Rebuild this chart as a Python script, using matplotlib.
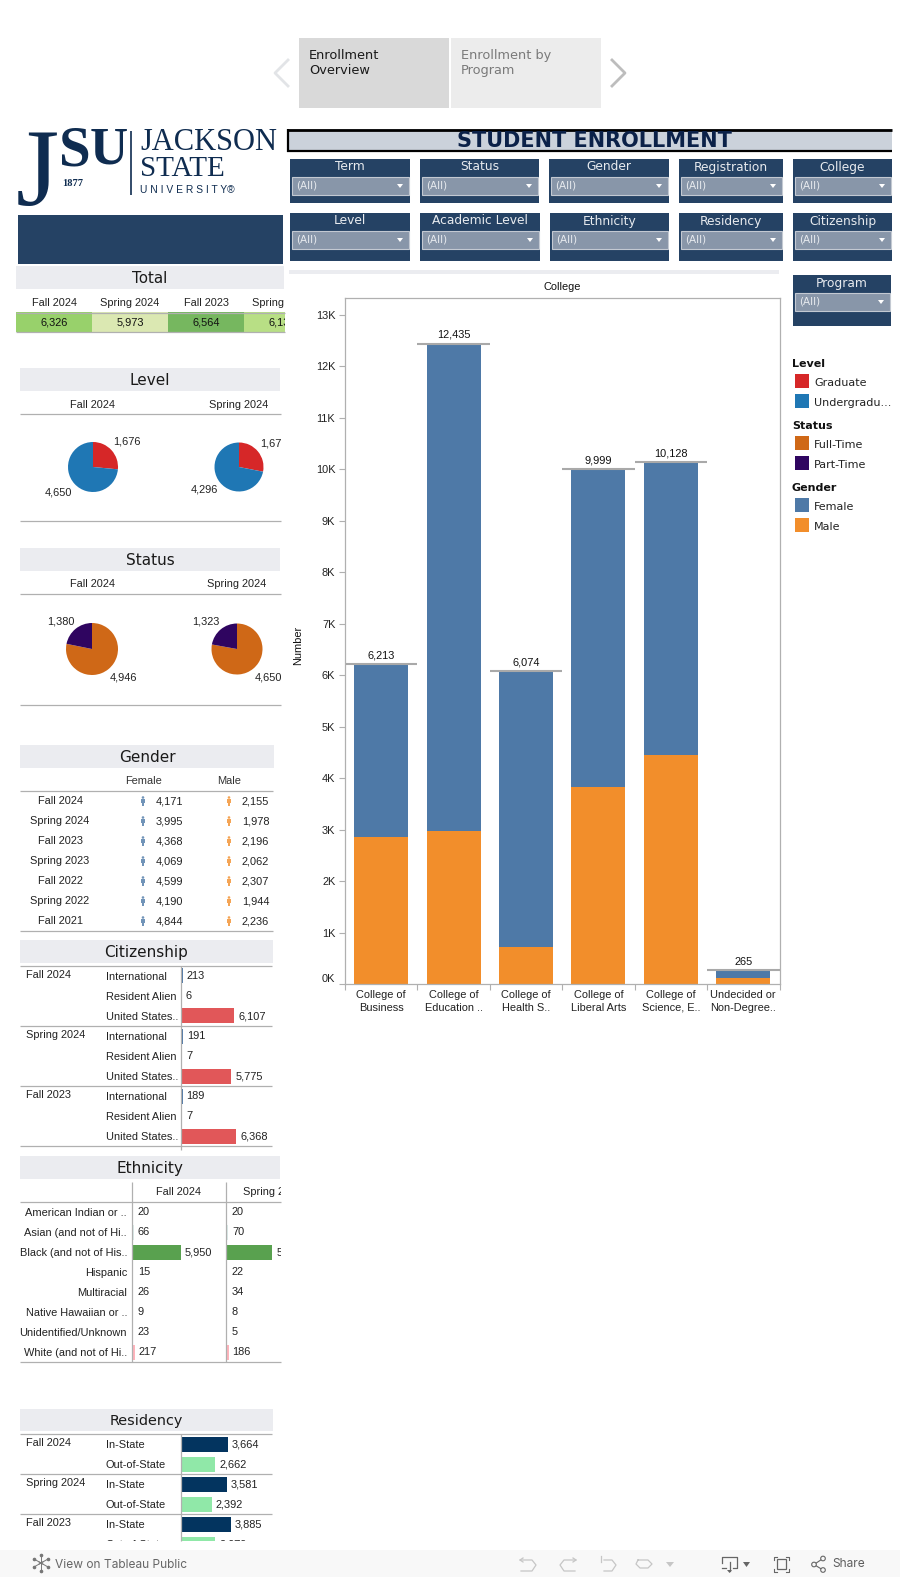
# Student enrollment dashboard - one page made of a pixel overlay plus small axes for the marks

import matplotlib
matplotlib.use('Agg')
import matplotlib.pyplot as plt
from matplotlib.patches import Rectangle, Circle
from matplotlib.transforms import Bbox

# 1. Data

total_terms = ['Fall 2024', 'Spring 2024', 'Fall 2023', 'Spring 2023']
total_values = [6326, 5973, 6564, 6131]
total_colors = ['#98d16b', '#dbe8b2', '#76b75f', '#b8df85']

pie_terms = ['Fall 2024', 'Spring 2024']
level_graduate = [1676, 1677]
level_undergraduate = [4650, 4296]
status_full_time = [4946, 4650]
status_part_time = [1380, 1323]

gender_terms = ['Fall 2024', 'Spring 2024', 'Fall 2023', 'Spring 2023', 'Fall 2022', 'Spring 2022', 'Fall 2021']
gender_female = [4171, 3995, 4368, 4069, 4599, 4190, 4844]
gender_male = [2155, 1978, 2196, 2062, 2307, 1944, 2236]

citizenship_terms = ['Fall 2024', 'Spring 2024', 'Fall 2023']
citizenship_labels = ['International', 'Resident Alien', 'United States..'] * 3
citizenship_values = [213, 6, 6107, 191, 7, 5775, 189, 7, 6368]

ethnicity_labels = ['American Indian or ..', 'Asian (and not of Hi..', 'Black (and not of His..', 'Hispanic',
                    'Multiracial', 'Native Hawaiian or ..', 'Unidentified/Unknown', 'White (and not of Hi..']
ethnicity_fall_2024 = [20, 66, 5950, 15, 26, 9, 23, 217]
ethnicity_spring_2024 = [20, 70, 5628, 22, 34, 8, 5, 186]

residency_terms = ['Fall 2024', 'Spring 2024', 'Fall 2023']
residency_labels = ['In-State', 'Out-of-State'] * 3
residency_values = [3664, 2662, 3581, 2392, 3885, 2679]

colleges = ['College of\nBusiness', 'College of\nEducation ..', 'College of\nHealth S..',
            'College of\nLiberal Arts', 'College of\nScience, E..', 'Undecided or\nNon-Degree..']
college_male = [2860, 2980, 720, 3820, 4440, 120]
college_total = [6213, 12435, 6074, 9999, 10128, 265]
college_female = [t - m for t, m in zip(college_total, college_male)]
number_ticks = [k * 1000 for k in range(14)]

# 2. Page setup

W, H = 900, 1577
NAVY = '#254264'
BAND = '#ebecf0'
RULE = '#b0b0b0'
SANS = 'Liberation Sans'
DEJA = 'DejaVu Sans'

C_RED, C_BLUE = '#d62728', '#1f77b4'
C_ORANGE, C_PURPLE = '#cf6817', '#2f0560'
C_FEMALE, C_MALE = '#4e79a7', '#f28e2b'

fig = plt.figure(figsize=(W / 100, H / 100), dpi=100)
page = fig.add_axes([0, 0, 1, 1], zorder=5)
page.set_xlim(0, W)
page.set_ylim(H, 0)
page.axis('off')
page.patch.set_alpha(0)

LEFT_CLIP = Bbox.from_extents(0, H - 1541, 281, H)
HEAT_CLIP = Bbox.from_extents(0, 0, 285, H)


def px_axes(x0, y0, x1, y1):
    # axes placed by pixel box, y measured from the top of the page
    ax = fig.add_axes([x0 / W, 1 - y1 / H, (x1 - x0) / W, (y1 - y0) / H], zorder=2)
    ax.patch.set_alpha(0)
    return ax


def txt(x, y, s, size=7.9, color='#222222', ha='left', family=SANS, weight='normal', clip=None, **kw):
    t = page.text(x, y, s, fontsize=size, color=color, ha=ha, va='center', family=family, weight=weight, **kw)
    if clip is not None:
        t.set_clip_box(clip)
        t.set_clip_on(True)
    return t


def box(x0, y0, x1, y1, color, **kw):
    page.add_patch(Rectangle((x0, y0), x1 - x0, y1 - y0, facecolor=color, edgecolor='none', **kw))


def rule(x0, x1, y, color=RULE, lw=0.9):
    page.plot([x0, x1], [y, y], color=color, lw=lw, solid_capstyle='butt')


def vrule(x, y0, y1, color=RULE, lw=0.9):
    page.plot([x, x], [y0, y1], color=color, lw=lw, solid_capstyle='butt')


def header(x0, x1, y0, y1, s, size=11):
    box(x0, y0, x1, y1, BAND)
    txt((x0 + x1) / 2, (y0 + y1) / 2 + 1, s, size=size, ha='center', family=DEJA, color='#1a1a1a')


def bar_panel(x0, y0, x1, y1, values, colors, px_per_unit, row=20):
    # horizontal bars on rows of a fixed pixel height, with the value just past the bar end
    ax = px_axes(x0, y0, x1, y1)
    ax.set_xlim(0, (x1 - x0) / px_per_unit)
    ax.set_ylim((y1 - y0) / row - 0.5, -0.5)
    ax.axis('off')
    ax.barh(range(len(values)), values, height=0.75, color=colors)
    for i, v in enumerate(values):
        # very short bars keep their label at a fixed gap from the axis
        gap = max(4, 5 - v * px_per_unit)
        ax.annotate(f'{v:,}', (v, i), xytext=(gap * 0.72, -0.3), textcoords='offset points', va='center', ha='left',
                    fontsize=7.9, family=SANS, color='#222222', annotation_clip=False, clip_on=True)
    return ax


def draw_pie(cx, cy, r, values, colors):
    ax = px_axes(cx - r, cy - r, cx + r, cy + r)
    ax.pie(values, colors=colors, startangle=90, counterclock=False, radius=1,
           wedgeprops={'linewidth': 0})
    ax.set_xlim(-1, 1)
    ax.set_ylim(-1, 1)


# 3. Navigation tabs

box(299, 38, 449, 108, '#d9d9d9')
box(451, 38, 601, 108, '#ececec')
txt(309, 55.5, 'Enrollment', size=9.3, family=DEJA, color='#1a1a1a')
txt(309, 70.5, 'Overview', size=9.3, family=DEJA, color='#1a1a1a')
txt(461, 55.5, 'Enrollment by', size=9.3, family=DEJA, color='#7a7a7a')
txt(461, 70.5, 'Program', size=9.3, family=DEJA, color='#7a7a7a')
page.plot([288, 275, 288], [60, 73, 86], color='#e2e4e7', lw=2)
page.plot([612, 625, 612], [60, 73, 86], color='#bdbdbd', lw=2)

# 4. Logo

LOGO = '#0f2c50'
page.text(16, 128, 'J', fontsize=80, family='Liberation Serif', color=LOGO, ha='left', va='top', weight='normal')
txt(59, 151, 'S', size=41, family='Liberation Serif', color=LOGO, weight='bold')
txt(90, 151, 'U', size=38, family='Liberation Serif', color=LOGO, weight='bold')
txt(62, 184, '1877', size=7.5, family='Liberation Serif', color=LOGO, weight='bold')
vrule(131, 131, 195, color=LOGO, lw=1.2)
txt(140, 142, 'JACKSON', size=22, family='Liberation Serif', color=LOGO)
txt(140, 169, 'STATE', size=21, family='Liberation Serif', color=LOGO)
txt(140, 190, 'U N I V E R S I T Y®', size=7.4, family=SANS, color=LOGO)

box(18, 215, 283, 264, NAVY)

# 5. Title and filters

box(287, 129, 892, 152, '#cbd2db')
rule(287, 892, 130, color='black', lw=2)
rule(287, 892, 151, color='black', lw=1.6)
vrule(288, 129, 152, color='black', lw=1.6)
txt(594, 141, 'STUDENT ENROLLMENT', size=15, family=DEJA, weight='bold', ha='center', color='#0b2148')

filters = [
    ('Term', 290, 410, 159, 203), ('Status', 420, 539, 159, 203), ('Gender', 549, 669, 159, 203),
    ('Registration', 679, 783, 159, 203), ('College', 793, 892, 159, 203),
    ('Level', 290, 410, 213, 261), ('Academic Level', 420, 540, 213, 261), ('Ethnicity', 550, 669, 213, 261),
    ('Residency', 679, 783, 213, 261), ('Citizenship', 793, 892, 213, 261),
    ('Program', 793, 891, 275, 326),
]
for name, x0, x1, y0, y1 in filters:
    box(x0, y0, x1, y1, NAVY)
    txt((x0 + x1) / 2, y0 + 8, name, size=8.8, ha='center', family=DEJA, color='#e8ebef')
    page.add_patch(Rectangle((x0 + 1.5, y0 + 17.5), x1 - x0 - 3, 18.5, facecolor='#8896a9',
                             edgecolor='#c3c9d2', lw=0.8))
    txt(x0 + 6, y0 + 26.5, '(All)', size=7.5, family=DEJA, color='#e8ebef')
    page.fill([x1 - 13, x1 - 7, x1 - 10], [y0 + 25, y0 + 25, y0 + 29], color='white', lw=0)

box(289, 270, 779, 274, BAND)

# 6. Total table

header(16, 284, 266, 289, 'Total', size=10.8)
cell = 76
for i, (term, v, col) in enumerate(zip(total_terms, total_values, total_colors)):
    x0 = 16 + i * cell
    txt(x0 + cell / 2, 303, term, ha='center', clip=HEAT_CLIP)
    page.add_patch(Rectangle((x0, 312), min(cell, 285 - x0), 20, facecolor=col, edgecolor='none'))
    txt(x0 + cell / 2, 322.5, f'{v:,}', ha='center', clip=HEAT_CLIP, color='#111111')
rule(16, 285, 312.5)
rule(16, 285, 332)

# 7. Level and Status pies

header(20, 280, 368, 391, 'Level')
txt(93, 405, pie_terms[0], ha='center')
txt(239, 405, pie_terms[1], ha='center')
rule(20, 281, 414)
rule(20, 281, 521)
draw_pie(93, 467, 25, [level_graduate[0], level_undergraduate[0]], [C_RED, C_BLUE])
draw_pie(239, 467, 24.5, [level_graduate[1], level_undergraduate[1]], [C_RED, C_BLUE])
txt(113, 442, f'{level_graduate[0]:,}', clip=LEFT_CLIP)
txt(45, 492.5, f'{level_undergraduate[0]:,}')
txt(260, 443, f'{level_graduate[1]:,}', clip=LEFT_CLIP)
txt(191, 490, f'{level_undergraduate[1]:,}')

header(20, 280, 548, 571, 'Status')
txt(92, 584, pie_terms[0], ha='center')
txt(237, 584, pie_terms[1], ha='center')
rule(20, 281, 594)
rule(20, 281, 705)
draw_pie(92, 649, 26, [status_full_time[0], status_part_time[0]], [C_ORANGE, C_PURPLE])
draw_pie(237, 649, 25.5, [status_full_time[1], status_part_time[1]], [C_ORANGE, C_PURPLE])
txt(47, 621, f'{status_part_time[0]:,}')
txt(110, 677, f'{status_full_time[0]:,}')
txt(192, 621, f'{status_part_time[1]:,}')
txt(255, 677, f'{status_full_time[1]:,}', clip=LEFT_CLIP)

# 8. Gender table

header(20, 274, 745, 768, 'Gender')
txt(143, 781, 'Female', ha='center', color='#333333')
txt(229, 781, 'Male', ha='center', color='#333333')
rule(20, 273, 791)
rule(20, 273, 931)
for i, term in enumerate(gender_terms):
    y = 801 + i * 20
    txt(60, y, term, ha='center')
    for x, col, v in [(143, C_FEMALE, gender_female[i]), (229, C_MALE, gender_male[i])]:
        page.add_patch(Circle((x, y - 3.5), 1.3, facecolor=col, edgecolor='none', alpha=0.8))
        box(x - 1.6, y - 2, x + 1.6, y + 1.5, col, alpha=0.8)
        box(x - 0.9, y + 1.5, x + 0.9, y + 4.5, col, alpha=0.8)
        txt(x + 13, y, f'{v:,}')

# 9. Citizenship bars

header(20, 273, 940, 963, 'Citizenship')
citizen_colors = [C_FEMALE, '#76b7b2', '#e15759'] * 3
bar_panel(181, 966, 280, 1146, citizenship_values, citizen_colors, 0.0087)
rule(20, 272, 966)
for i, term in enumerate(citizenship_terms):
    txt(26, 975 + i * 60, term)
    rule(20, 272, 1026 + i * 60)
for i, label in enumerate(citizenship_labels):
    txt(106, 976.5 + i * 20, label)
vrule(180.5, 966, 1150)

# 10. Ethnicity bars

header(20, 280, 1156, 1179, 'Ethnicity')
txt(178, 1192, 'Fall 2024', ha='center')
txt(243, 1192, 'Spring 2024', clip=LEFT_CLIP)
vrule(132, 1182, 1362)
vrule(226, 1182, 1362)
rule(20, 281, 1202)
rule(20, 281, 1362)
eth_colors = [C_FEMALE, '#dcecea', '#59a14f', '#edc948', '#b07aa1', '#f28e2b', '#9c755f', '#ffb3bb']
bar_panel(133, 1202, 226, 1362, ethnicity_fall_2024, eth_colors, 0.00807)
bar_panel(227, 1202, 281, 1362, ethnicity_spring_2024, eth_colors, 0.00807)
for i, label in enumerate(ethnicity_labels):
    txt(127, 1212.5 + i * 20, label, ha='right')

# 11. Residency bars

header(20, 273, 1409, 1431, 'Residency', size=10.4)
resid_colors = ['#03345f', '#90e8a8'] * 3
bar_panel(181, 1434, 280, 1541, residency_values, resid_colors, 0.0128)
rule(20, 272, 1434)
for i, term in enumerate(residency_terms):
    txt(26, 1443 + i * 40, term)
    if i < 2:
        rule(20, 272, 1474 + i * 40)
for i, label in enumerate(residency_labels):
    txt(106, 1444.5 + i * 20, label, clip=LEFT_CLIP)
vrule(180.5, 1434, 1541)

# 12. College chart

txt(562, 287, 'College', ha='center', color='#111111')
txt(298, 645, 'Number', ha='center', rotation=90, color='#111111')

ax = px_axes(345, 298, 779.5, 984)
x_pos = list(range(len(colleges)))
ax.bar(x_pos, college_male, width=0.746, color=C_MALE)
ax.bar(x_pos, college_female, width=0.746, bottom=college_male, color=C_FEMALE)
ax.hlines(college_total, [x - 0.5 for x in x_pos], [x + 0.5 for x in x_pos], color='#a9a9a9', lw=1.5)
for x, v in zip(x_pos, college_total):
    ax.annotate(f'{v:,}', (x, v), xytext=(0, 2.6), textcoords='offset points', ha='center', va='bottom',
                fontsize=7.9, family=SANS, color='#111111')
ax.set_xlim(-0.5, 5.5)
ax.set_ylim(0, 686 / 51.5 * 1000)
ax.set_yticks(number_ticks)
ax.set_yticklabels([f'{t // 1000}K' for t in number_ticks], fontsize=7.9, family=SANS, color='#222222')
ax.set_xticks(x_pos)
ax.set_xticklabels(colleges, fontsize=7.9, family=SANS, color='#222222', linespacing=1.3)
ax.set_xticks([x - 0.5 for x in x_pos] + [5.5], minor=True)
ax.tick_params(axis='x', which='major', length=0, pad=4.5)
ax.tick_params(axis='x', which='minor', length=4, width=0.8, color=RULE)
ax.tick_params(axis='y', length=4, width=0.8, color=RULE, pad=3)
ax.get_yticklabels()[0].set_va('bottom')
for spine in ax.spines.values():
    spine.set_color(RULE)
    spine.set_linewidth(0.9)

# 13. Legend

legend_groups = [('Level', ['Graduate', 'Undergradu...'], [C_RED, C_BLUE], 363),
                 ('Status', ['Full-Time', 'Part-Time'], [C_ORANGE, C_PURPLE], 425),
                 ('Gender', ['Female', 'Male'], [C_FEMALE, C_MALE], 487)]
for title, names, cols, y in legend_groups:
    txt(792, y + 1, title, size=8, family=DEJA, weight='bold', color='#111111')
    for i, (name, col) in enumerate(zip(names, cols)):
        box(795, y + 11 + i * 20, 809, y + 25 + i * 20, col)
        txt(814, y + 19.5 + i * 20, name, size=8, family=DEJA, color='#222222')

# 14. Toolbar

box(0, 1550, W, H, '#f8f8f8', zorder=4)
TB = '#c6c6c6'
DARK = '#666666'
txt(55, 1564.5, 'View on Tableau Public', size=8.6, family='Inter', color='#666666', zorder=6)
for dx, dy in [(0, 8), (7, 4), (7, -4), (0, -8), (-7, -4), (-7, 4)]:
    page.plot([41 - dx * 0.3, 41 + dx], [1563 - dy * 0.3, 1563 + dy], color='#777777', lw=0.7, zorder=6)
    page.plot([41 + dx], [1563 + dy], 'o', ms=1.6, color='#777777', zorder=6)

page.plot([523, 520, 523], [1558, 1560, 1562], color=TB, lw=0.9, zorder=6)
page.plot([520, 532, 536, 532, 521], [1560, 1560, 1565, 1571, 1571], color=TB, lw=0.9, zorder=6)
page.plot([573, 576, 573], [1558, 1560, 1562], color=TB, lw=0.9, zorder=6)
page.plot([576, 564, 560, 564, 575], [1560, 1560, 1565, 1571, 1571], color=TB, lw=0.9, zorder=6)
page.plot([601, 601], [1556, 1562], color=TB, lw=0.9, zorder=6)
page.plot([604, 612, 616, 612, 604], [1560, 1560, 1565, 1571, 1571], color=TB, lw=0.9, zorder=6)
page.plot([638, 648, 652, 648, 640, 636, 638], [1560, 1560, 1564, 1568, 1568, 1564, 1560], color=TB, lw=0.9, zorder=6)
page.fill([666, 674, 670], [1562, 1562, 1567], color=TB, lw=0, zorder=6)
vrule(695, 1557, 1570, color=TB)
page.plot([722, 722, 737, 737, 733], [1563, 1557, 1557, 1568, 1568], color=DARK, lw=0.9, zorder=6)
page.plot([722, 726], [1568, 1568], color=DARK, lw=0.9, zorder=6)
page.plot([729.5, 729.5], [1562, 1571], color=DARK, lw=0.9, zorder=6)
page.fill([727, 732, 729.5], [1570, 1570, 1573], color=DARK, lw=0, zorder=6)
page.fill([743, 750, 746.5], [1562, 1562, 1567], color=DARK, lw=0, zorder=6)
page.add_patch(Rectangle((777, 1559), 9, 10, facecolor='none', edgecolor=DARK, lw=0.9, zorder=6))
for sx, sy in [(773.5, 1556.5), (789, 1556.5), (773.5, 1571.5), (789, 1571.5)]:
    inx = 3 if sx < 780 else -3
    iny = 3 if sy < 1560 else -3
    page.plot([sx + inx, sx, sx], [sy, sy, sy + iny], color=DARK, lw=0.8, zorder=6)
page.plot([823, 814, 823], [1558.5, 1564.5, 1570], color=DARK, lw=0.8, zorder=6)
for x, y in [(823, 1558.5), (814, 1564.5), (823, 1570)]:
    page.add_patch(Circle((x, y), 2.3, facecolor='#f8f8f8', edgecolor=DARK, lw=0.8, zorder=7))
txt(832, 1564, 'Share', size=8.6, family='Inter', color='#5e5e5e', zorder=6)

fig.savefig('out.png', dpi=100)
